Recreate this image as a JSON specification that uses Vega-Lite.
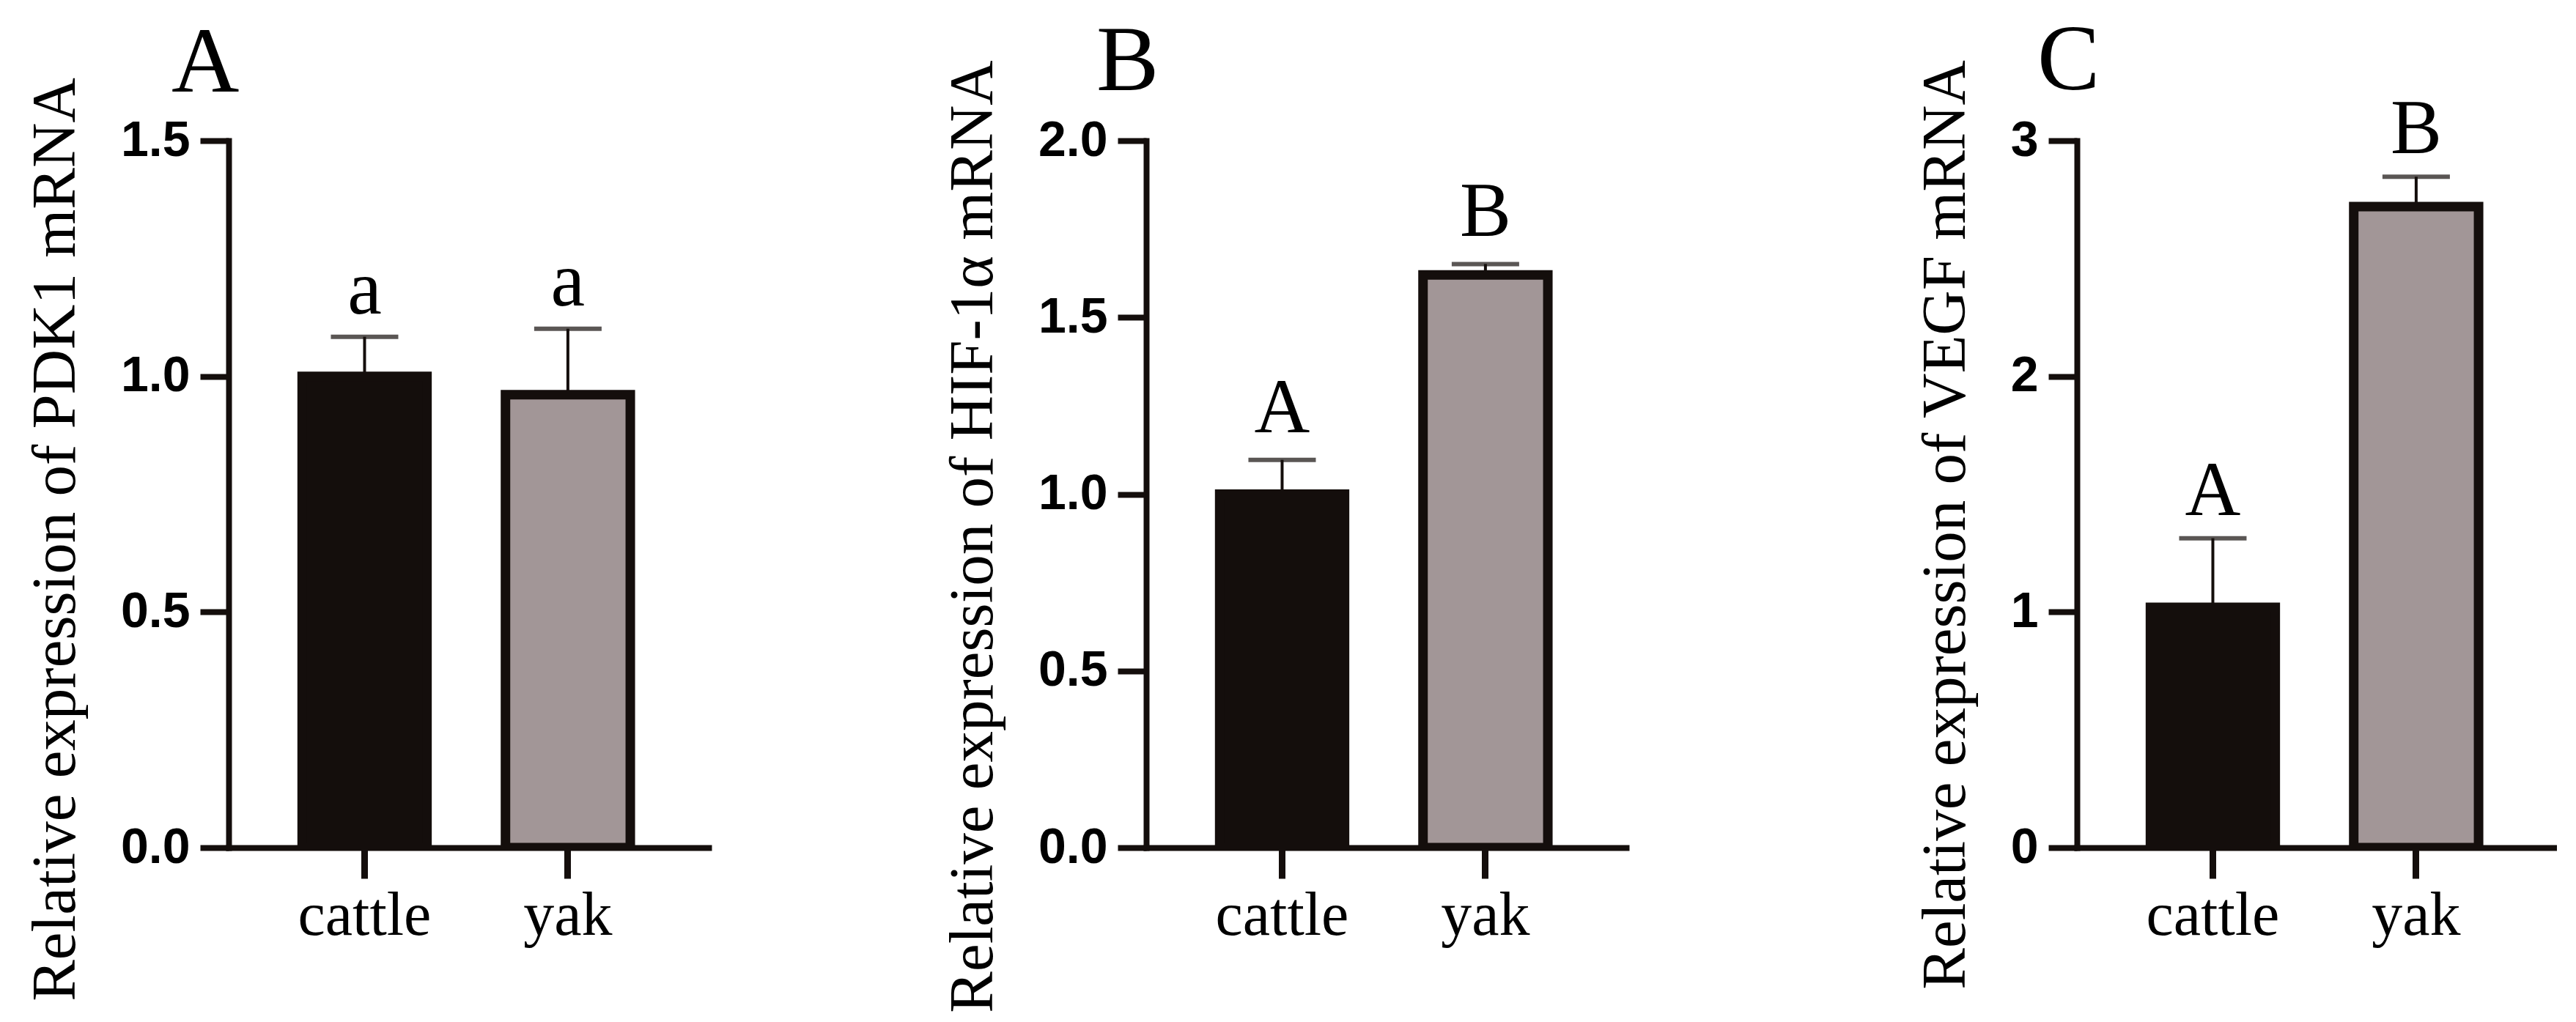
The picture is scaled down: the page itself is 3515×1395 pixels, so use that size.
{
  "$schema": "https://vega.github.io/schema/vega-lite/v6.json",
  "background": "white",
  "padding": {"left": 33, "top": 19, "right": 0, "bottom": 0},
  "datasets": {
    "expr": [
      {"panel": "A", "species": "cattle", "mean": 1.0, "upper": 1.084, "letter": "a"},
      {"panel": "A", "species": "yak", "mean": 0.961, "upper": 1.101, "letter": "a"},
      {"panel": "B", "species": "cattle", "mean": 1.0, "upper": 1.097, "letter": "A"},
      {"panel": "B", "species": "yak", "mean": 1.62, "upper": 1.651, "letter": "B"},
      {"panel": "C", "species": "cattle", "mean": 1.02, "upper": 1.313, "letter": "A"},
      {"panel": "C", "species": "yak", "mean": 2.72, "upper": 2.847, "letter": "B"}
    ]
  },
  "spacing": 393,
  "hconcat": [
    {
      "spacing": 318,
      "hconcat": [
        {
          "data": {"name": "expr"},
          "transform": [{"filter": "datum.panel === 'A'"}],
          "width": 655,
          "height": 965,
          "title": {"text": "A", "dx": -78, "offset": -46},
          "encoding": {
            "x": {"field": "species", "type": "nominal", "sort": ["cattle", "yak"],
              "scale": {"type": "band", "paddingInner": 0.386, "paddingOuter": 0.3735, "align": 0.484},
              "axis": {"title": null}}
          },
          "layer": [
            {"mark": {"type": "rule", "color": "#140e0c", "strokeWidth": 4},
             "encoding": {
               "y": {"field": "mean", "type": "quantitative", "title": "Relative expression of PDK1 mRNA",
                 "scale": {"domain": [0, 1.5], "nice": false},
                 "axis": {"values": [0, 0.5, 1, 1.5], "format": ".1f", "titleY": 544}},
               "y2": {"field": "upper"}}},
            {"mark": {"type": "bar", "stroke": "#140e0c", "strokeWidth": 13, "clip": true},
             "encoding": {
               "y": {"field": "mean", "type": "quantitative", "title": "Relative expression of PDK1 mRNA"},
               "color": {"field": "species", "type": "nominal", "scale": {"domain": ["cattle", "yak"], "range": ["#140e0c", "#a29697"]}, "legend": null}}},
            {"mark": {"type": "tick", "orient": "horizontal", "size": 92, "thickness": 6, "color": "#140e0c"},
             "encoding": {"y": {"field": "upper", "type": "quantitative", "title": "Relative expression of PDK1 mRNA"}}},
            {"mark": {"type": "text", "font": "Liberation Serif", "fontSize": 105, "baseline": "alphabetic", "dy": -32, "color": "#000"},
             "encoding": {"y": {"field": "upper", "type": "quantitative", "title": "Relative expression of PDK1 mRNA"}, "text": {"field": "letter"}}}
          ]
        },
        {
          "data": {"name": "expr"},
          "transform": [{"filter": "datum.panel === 'B'"}],
          "width": 655,
          "height": 965,
          "title": {"text": "B", "dx": -68, "offset": -68},
          "encoding": {
            "x": {"field": "species", "type": "nominal", "sort": ["cattle", "yak"],
              "scale": {"type": "band", "paddingInner": 0.386, "paddingOuter": 0.3735, "align": 0.484},
              "axis": {"title": null}}
          },
          "layer": [
            {"mark": {"type": "rule", "color": "#140e0c", "strokeWidth": 4},
             "encoding": {
               "y": {"field": "mean", "type": "quantitative", "title": "Relative expression of HIF-1α mRNA",
                 "scale": {"domain": [0, 2], "nice": false},
                 "axis": {"values": [0, 0.5, 1, 1.5, 2], "format": ".1f", "titleY": 540}},
               "y2": {"field": "upper"}}},
            {"mark": {"type": "bar", "stroke": "#140e0c", "strokeWidth": 13, "clip": true},
             "encoding": {
               "y": {"field": "mean", "type": "quantitative", "title": "Relative expression of HIF-1α mRNA"},
               "color": {"field": "species", "type": "nominal", "scale": {"domain": ["cattle", "yak"], "range": ["#140e0c", "#a29697"]}, "legend": null}}},
            {"mark": {"type": "tick", "orient": "horizontal", "size": 92, "thickness": 6, "color": "#140e0c"},
             "encoding": {"y": {"field": "upper", "type": "quantitative", "title": "Relative expression of HIF-1α mRNA"}}},
            {"mark": {"type": "text", "font": "Liberation Serif", "fontSize": 105, "baseline": "alphabetic", "dy": -38, "color": "#000"},
             "encoding": {"y": {"field": "upper", "type": "quantitative", "title": "Relative expression of HIF-1α mRNA"}, "text": {"field": "letter"}}}
          ]
        }
      ]
    },
    {
      "data": {"name": "expr"},
      "transform": [{"filter": "datum.panel === 'C'"}],
      "width": 655,
      "height": 965,
      "title": {"text": "C", "dx": -54, "offset": -68},
      "encoding": {
        "x": {"field": "species", "type": "nominal", "sort": ["cattle", "yak"],
          "scale": {"type": "band", "paddingInner": 0.386, "paddingOuter": 0.3735, "align": 0.484},
          "axis": {"title": null}}
      },
      "layer": [
        {"mark": {"type": "rule", "color": "#140e0c", "strokeWidth": 4},
         "encoding": {
           "y": {"field": "mean", "type": "quantitative", "title": "Relative expression of VEGF mRNA",
             "scale": {"domain": [0, 3], "nice": false},
             "axis": {"values": [0, 1, 2, 3], "format": "d", "titleY": 524}},
           "y2": {"field": "upper"}}},
        {"mark": {"type": "bar", "stroke": "#140e0c", "strokeWidth": 13, "clip": true},
         "encoding": {
           "y": {"field": "mean", "type": "quantitative", "title": "Relative expression of VEGF mRNA"},
           "color": {"field": "species", "type": "nominal", "scale": {"domain": ["cattle", "yak"], "range": ["#140e0c", "#a29697"]}, "legend": null}}},
        {"mark": {"type": "tick", "orient": "horizontal", "size": 92, "thickness": 6, "color": "#140e0c"},
         "encoding": {"y": {"field": "upper", "type": "quantitative", "title": "Relative expression of VEGF mRNA"}}},
        {"mark": {"type": "text", "font": "Liberation Serif", "fontSize": 105, "baseline": "alphabetic", "dy": -32, "color": "#000"},
         "encoding": {"y": {"field": "upper", "type": "quantitative", "title": "Relative expression of VEGF mRNA"}, "text": {"field": "letter"}}}
      ]
    }
  ],
  "config": {
    "view": {"stroke": null},
    "title": {"font": "Liberation Serif", "fontSize": 128, "fontWeight": "normal", "anchor": "start", "frame": "group", "baseline": "top", "color": "#000"},
    "axis": {
      "grid": false,
      "zindex": 1,
      "domainColor": "#140e0c",
      "domainWidth": 8,
      "domainCap": "square",
      "tickColor": "#140e0c",
      "tickWidth": 8,
      "labelColor": "#000",
      "titleColor": "#000"
    },
    "axisX": {
      "labelFont": "Liberation Serif",
      "labelFontSize": 84,
      "labelAngle": 0,
      "labelPadding": 10,
      "labelLimit": 0,
      "tickSize": 42,
      "tickWidth": 9
    },
    "axisY": {
      "labelFont": "Liberation Sans",
      "labelFontWeight": "bold",
      "labelFontSize": 68,
      "labelPadding": 14,
      "tickSize": 39,
      "titleFont": "Liberation Serif",
      "titleFontSize": 85,
      "titleFontWeight": "normal",
      "titlePadding": 45
    }
  }
}
